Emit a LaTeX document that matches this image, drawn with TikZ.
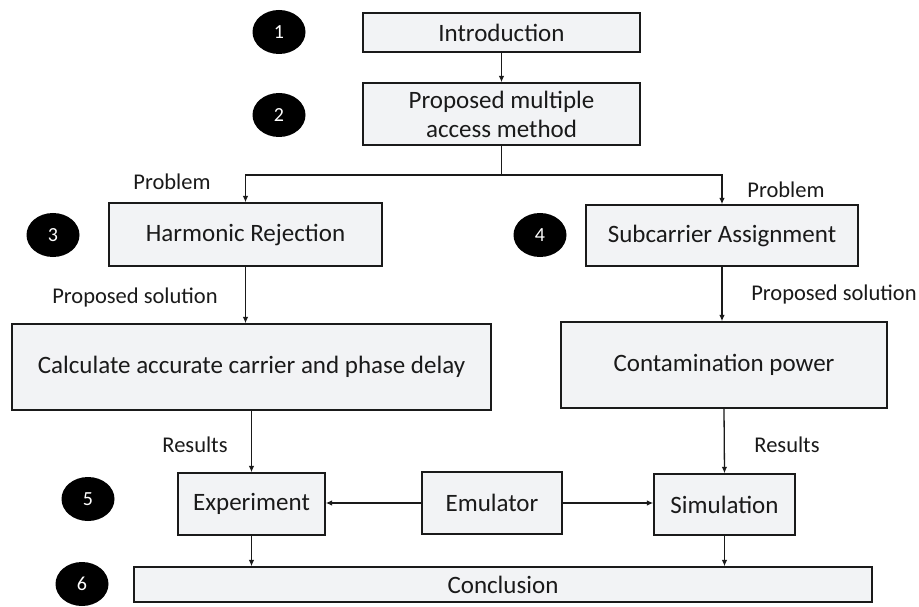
\documentclass[tikz,border=0pt]{standalone}
\usepackage{fontspec}
\setmainfont{Carlito}
\usetikzlibrary{arrows.meta,shapes.geometric}
\definecolor{boxfill}{HTML}{F2F3F5}
\definecolor{ink}{HTML}{1A1A1A}
\begin{document}
\begin{tikzpicture}[x=1pt,y=-1pt,
  box/.style={draw=ink,line width=1.3pt,fill=boxfill,inner sep=0pt,align=center,
    font=\fontsize{25}{29}\selectfont,text=ink},
  num/.style={ellipse,fill=black,inner sep=0pt,minimum width=53pt,minimum height=44pt,
    text=white,font=\fontsize{20}{22}\selectfont},
  lbl/.style={font=\fontsize{22.5}{25}\selectfont,text=ink,inner sep=0pt},
  conn/.style={draw=ink,line width=1.3pt},
  arr/.style={conn,-{Latex[length=6.5pt,width=5.5pt]}}]
\useasboundingbox[fill=white] (0,0) rectangle (919,607);
% boxes
\node[box,minimum width=277pt,minimum height=39pt] (intro) at (501.5,32.5) {Introduction};
\node[box,minimum width=277pt,minimum height=62pt] (prop) at (501.5,114) {Proposed multiple\\access method};
\node[box,minimum width=273pt,minimum height=63pt] (harm) at (245.5,234.5) {Harmonic Rejection};
\node[box,minimum width=272pt,minimum height=61pt] (subc) at (722,235.5) {Subcarrier Assignment};
\node[box,minimum width=479pt,minimum height=86pt] (calc) at (251.5,367) {Calculate accurate carrier and phase delay};
\node[box,minimum width=326pt,minimum height=86pt] (cont) at (724,365) {Contamination power};
\node[box,minimum width=147pt,minimum height=62pt] (exp) at (251.5,504) {Experiment};
\node[box,minimum width=140pt,minimum height=62pt] (emu) at (492,503) {Emulator};
\node[box,minimum width=141pt,minimum height=61pt] (sim) at (724.5,504.5) {Simulation};
\node[box,minimum width=738pt,minimum height=35pt] (concl) at (503,584.5) {Conclusion};
% numbered circles
\node[num] (n1) at (279,32) {1};
\node[num] (n2) at (279,115) {2};
\node[num] (n3) at (53,235) {3};
\node[num] (n4) at (540,235) {4};
\node[num] (n5) at (88,499) {5};
\node[num] (n6) at (82,584) {6};
% labels
\node[lbl] (lp1) at (172,182) {Problem};
\node[lbl] (lp2) at (786,190) {Problem};
\node[lbl] (ls1) at (135,298) {Proposed solution};
\node[lbl] (ls2) at (834,295) {Proposed solution};
\node[lbl] (lr1) at (195,445) {Results};
\node[lbl] (lr2) at (787,445) {Results};
% connectors
\coordinate (split) at (501.5,175);
\draw[arr] (intro.south) -- (prop.north);
\draw[conn] (prop.south) -- (split);
\draw[arr] (split) -| (harm.north);
\draw[arr] (split) -| (subc.north);
\draw[arr] (harm.south) -- (harm.south |- calc.north);
\draw[arr] (subc.south) -- (subc.south |- cont.north);
\draw[arr] (calc.south) -- (exp.north);
\draw[arr] (cont.south) -- (sim.north);
\draw[arr] (emu.west) -- (exp.east |- emu.west);
\draw[arr] (emu.east) -- (sim.west |- emu.east);
\draw[arr] (exp.south) -- (exp.south |- concl.north);
\draw[arr] (sim.south) -- (sim.south |- concl.north);
\end{tikzpicture}
\end{document}
